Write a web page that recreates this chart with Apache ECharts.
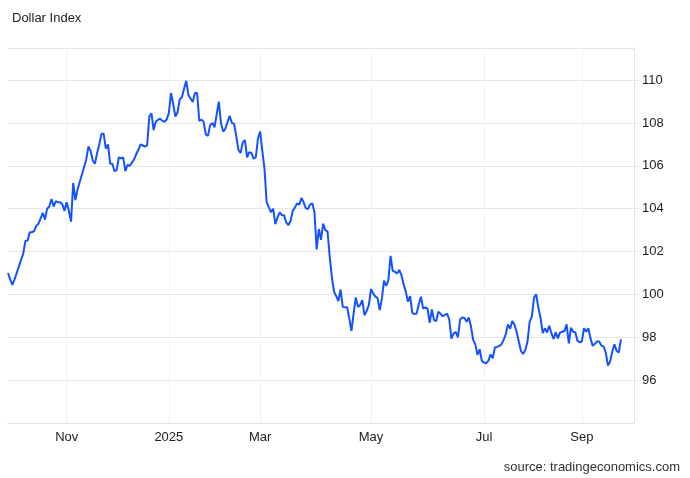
<!DOCTYPE html>
<html><head><meta charset="utf-8">
<script src="https://cdn.jsdelivr.net/npm/echarts@6/dist/echarts.min.js"></script>
<style>html,body{margin:0;padding:0;background:#fff}#c{width:690px;height:478px}</style>
</head><body><div id="c"></div>
<script>
const values = [
101.0,100.7,100.45,100.7,101.0,101.3,101.6,101.9,102.5,102.5,
102.9,102.9,102.95,103.2,103.3,103.55,103.8,103.5,104.0,104.1,
104.45,104.1,104.35,104.3,104.3,104.2,103.9,104.3,103.9,103.4,
105.2,104.4,104.9,105.25,105.6,105.95,106.3,106.9,106.7,106.25,
106.1,106.6,107.0,107.5,107.5,106.8,107.0,106.1,106.1,105.75,
105.8,106.4,106.35,106.4,105.75,106.05,106.0,106.15,106.3,106.55,
106.75,107.0,106.95,106.9,106.95,108.3,108.45,107.67,108.06,108.15,
108.2,108.1,108.06,108.16,108.47,109.4,108.9,108.3,108.5,109.1,
109.2,109.6,109.97,109.3,109.14,108.98,109.4,109.4,108.1,108.16,
108.05,107.47,107.4,107.9,108.0,107.8,108.4,109.0,107.97,107.6,
107.73,108.05,108.33,108.0,107.97,107.4,106.75,106.6,107.1,107.2,
106.4,106.64,106.6,106.33,106.4,107.27,107.6,106.7,105.86,104.3,
104.06,103.83,104.0,103.28,103.6,103.83,103.7,103.7,103.36,103.23,
103.44,103.9,104.06,104.25,104.19,104.5,104.3,104.03,103.98,104.2,
104.25,103.83,102.1,103.05,102.55,103.3,103.0,102.94,101.77,100.8,
100.13,99.92,99.69,100.23,99.42,99.4,99.4,98.88,98.3,99.1,
99.86,99.42,99.5,99.73,99.03,99.23,99.5,100.25,100.05,99.9,
99.84,99.27,99.8,100.64,100.4,100.67,101.8,101.1,101.06,100.98,
101.14,100.9,100.48,100.13,99.66,99.92,99.14,99.08,99.11,99.55,
99.89,99.34,99.39,99.34,98.67,99.3,98.8,98.75,99.19,99.1,
98.98,99.05,99.1,98.83,97.94,98.17,98.25,98.0,98.83,98.92,
98.9,98.72,98.92,98.5,97.88,97.67,97.18,97.44,96.9,96.82,
96.79,96.9,97.2,97.02,97.52,97.55,97.6,97.67,97.88,98.14,
98.6,98.4,98.76,98.6,98.26,97.8,97.36,97.22,97.41,97.8,
98.73,98.96,99.85,100.0,99.38,98.91,98.19,98.42,98.22,98.54,
98.19,97.92,98.23,97.95,98.23,98.26,98.29,98.6,97.72,98.45,
98.26,98.23,97.83,97.77,97.8,98.42,98.26,98.42,97.95,97.6,
97.7,97.8,97.8,97.61,97.57,97.3,96.68,96.87,97.33,97.67,
97.36,97.29,97.9
];
const tickIndex = [27, 74, 116, 167, 219, 264];
const tickLabels = ['Nov', '2025', 'Mar', 'May', 'Jul', 'Sep'];
const yTicks = [96, 98, 100, 102, 104, 106, 108, 110];
const padSlots = 6;
const categories = [];
for (let i = 0; i < values.length + padSlots; i++) categories.push(String(i));

const FONT = '"Liberation Sans", Arial, sans-serif';
const isTick = (idx) => tickIndex.indexOf(idx) >= 0;

const chart = echarts.init(document.getElementById('c'), null, {renderer: 'canvas'});
chart.setOption({
  animation: false,
  backgroundColor: '#ffffff',
  title: [
    {text: 'Dollar Index', left: 12, top: 12, padding: 0,
     textStyle: {fontFamily: FONT, fontSize: 13, fontWeight: 'normal', color: '#222'}},
    {text: 'source: tradingeconomics.com', right: 10, top: 461, padding: 0,
     textStyle: {fontFamily: FONT, fontSize: 13, fontWeight: 'normal', color: '#333'}}
  ],
  grid: {left: 8, right: 56, top: 48, bottom: 55, containLabel: false},
  xAxis: {
    type: 'category',
    data: categories,
    boundaryGap: false,
    axisLine: {show: true, lineStyle: {color: '#e2e2e2', width: 1}},
    axisTick: {show: false},
    axisLabel: {
      interval: (idx) => isTick(idx),
      formatter: (v, idx) => { const k = tickIndex.indexOf(Number(v)); return k >= 0 ? tickLabels[k] : ''; },
      margin: 8, color: '#222', fontSize: 13, fontFamily: FONT
    },
    splitLine: {show: true, interval: (idx) => isTick(idx), lineStyle: {color: '#eef2f6', width: 1}}
  },
  yAxis: {
    type: 'value',
    position: 'right',
    min: 94, max: 111.5, interval: 2,
    axisLine: {show: true, lineStyle: {color: '#e2e2e2'}},
    axisTick: {show: true, length: 5, lineStyle: {color: '#e6e6e6'}},
    axisLabel: {
      showMinLabel: false, showMaxLabel: false,
      formatter: (v) => yTicks.indexOf(v) >= 0 ? String(v) : '',
      margin: 8, color: '#222', fontSize: 13, fontFamily: FONT
    },
    splitLine: {show: true, lineStyle: {color: '#e6e6e6', width: 1}}
  },
  series: [{
    type: 'line',
    data: values,
    symbol: 'none',
    smooth: false,
    lineStyle: {color: '#1452ff', width: 2},
    itemStyle: {color: '#1452ff'}
  }]
});
</script>
</body></html>
